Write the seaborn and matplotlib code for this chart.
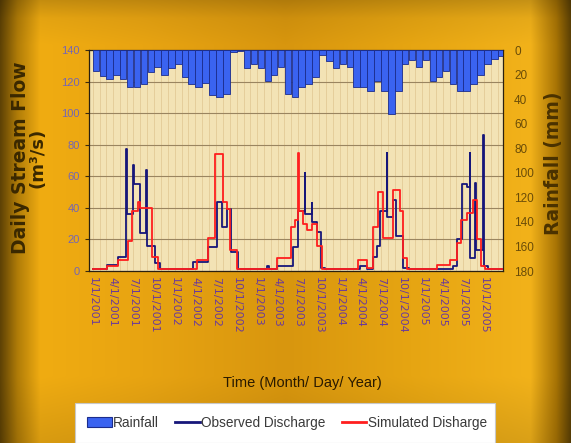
import numpy as np
import pandas as pd
import matplotlib
matplotlib.use("Agg")
import matplotlib.pyplot as plt
import matplotlib.dates as mdates
from matplotlib.colors import to_rgb
from matplotlib.lines import Line2D
from matplotlib.patches import Patch, Rectangle
import seaborn as sns

# ---------------- data ----------------
# Monthly rainfall (mm), Jan 2001 .. Dec 2005
rain_months = pd.date_range("2001-01-01", periods=60, freq="MS")
rain_mm = [17, 21, 24, 20, 24, 30, 30, 28, 18, 14, 20, 15,
           11, 22, 28, 30, 27, 37, 38, 36, 2, 1, 15, 11,
           15, 25, 20, 14, 36, 38, 30, 28, 22, 4, 9, 15,
           11, 14, 30, 30, 33, 25, 33, 52, 33, 11, 8, 14,
           8, 25, 22, 17, 28, 33, 33, 28, 20, 11, 7, 5]

# Observed daily discharge (m3/s) at change points
obs_dates = ["2001-01-01", "2001-03-04", "2001-04-24", "2001-05-29", "2001-06-01",
             "2001-06-30", "2001-07-04", "2001-07-30", "2001-08-25", "2001-08-29",
             "2001-10-04", "2001-10-26",
             "2002-03-23", "2002-05-28", "2002-07-04", "2002-07-26", "2002-08-18",
             "2002-09-04", "2002-10-08",
             "2003-02-12", "2003-02-20", "2003-03-27", "2003-06-09", "2003-07-01",
             "2003-07-30", "2003-08-02", "2003-08-29", "2003-09-02", "2003-09-20",
             "2003-10-08", "2003-10-28",
             "2004-03-30", "2004-04-29", "2004-05-28", "2004-06-12", "2004-06-27",
             "2004-07-26", "2004-07-29", "2004-08-25", "2004-09-06", "2004-10-05",
             "2004-11-01",
             "2005-05-18", "2005-06-02", "2005-06-24", "2005-07-16", "2005-07-30",
             "2005-08-02", "2005-08-24", "2005-08-27", "2005-09-27", "2005-09-30",
             "2005-10-17", "2005-12-20"]
obs_flow = [1, 4, 9, 77, 36,
            67, 55, 24, 64, 16,
            5, 1,
            6, 15, 44, 28, 39,
            12, 1,
            3, 1, 3, 15, 38,
            62, 36, 43, 31, 25,
            2, 1,
            3, 1, 9, 16, 38,
            75, 34, 45, 22, 2,
            1,
            3, 20, 55, 53, 75,
            8, 56, 13, 86, 3,
            1, 1]

# Simulated daily discharge (m3/s) at change points
sim_dates = ["2001-01-01", "2001-03-04", "2001-04-23", "2001-06-08", "2001-06-23",
             "2001-07-20", "2001-08-01", "2001-09-19", "2001-10-19",
             "2002-04-07", "2002-05-28", "2002-06-27", "2002-08-03", "2002-08-18",
             "2002-09-01", "2002-10-01",
             "2003-03-27", "2003-06-01", "2003-06-16", "2003-07-01", "2003-07-05",
             "2003-07-23", "2003-08-07", "2003-08-29", "2003-09-20", "2003-10-12",
             "2004-03-23", "2004-04-29", "2004-05-28", "2004-06-19", "2004-07-11",
             "2004-08-25", "2004-09-23", "2004-10-05", "2004-10-23",
             "2005-03-05", "2005-05-03", "2005-06-02", "2005-06-21", "2005-07-19",
             "2005-08-13", "2005-09-02", "2005-09-17", "2005-10-07", "2005-12-20"]
sim_flow = [1.5, 3, 7, 19, 38,
            44, 40, 9, 1.5,
            7, 21, 74, 44, 39,
            13, 1.5,
            8, 28, 32, 75, 38,
            30, 26, 30, 16, 1.5,
            7, 2, 28, 50, 21,
            51, 38, 8, 1.5,
            4, 7, 18, 32, 37,
            45, 20, 3, 1.5, 1.5]

tick_dates = ["2001-01-01", "2001-04-01", "2001-07-01", "2001-10-01",
              "2002-01-01", "2002-04-01", "2002-07-01", "2002-10-01",
              "2003-01-01", "2003-04-01", "2003-07-01", "2003-10-01",
              "2004-01-01", "2004-04-01", "2004-07-01", "2004-10-01",
              "2005-01-01", "2005-04-01", "2005-07-01", "2005-10-01"]
tick_labels = ["1/1/2001", "4/1/2001", "7/1/2001", "10/1/2001",
               "1/1/2002", "4/1/2002", "7/1/2002", "10/1/2002",
               "1/1/2003", "4/1/2003", "7/1/2003", "10/1/2003",
               "1/1/2004", "4/1/2004", "7/1/2004", "10/1/2004",
               "1/1/2005", "4/1/2005", "7/1/2005", "10/1/2005"]

# ---------------- styling ----------------
OBS_COLOR = "#16167A"
SIM_COLOR = "#FF1E1E"
BAR_FACE = "#3A63F0"
BAR_EDGE = "#1B2C8C"
PLOT_BG = "#F3E3B5"

plt.rcParams["font.family"] = ["Liberation Sans", "DejaVu Sans"]

W, H = 571, 443
fig = plt.figure(figsize=(W / 100, H / 100), dpi=100)

# metallic gold backdrop
def gold_backdrop(h, w):
    xs = np.linspace(0, 1, w)
    stops = [(0.00, "#5E4205"), (0.03, "#B07C08"), (0.07, "#F0AC12"),
             (0.25, "#E8A412"), (0.50, "#D8960E"), (0.72, "#E6A512"),
             (0.93, "#F2B21A"), (0.975, "#A87405"), (1.00, "#5E4205")]
    pos = [p for p, _ in stops]
    cols = np.array([to_rgb(c) for _, c in stops])
    row = np.stack([np.interp(xs, pos, cols[:, i]) for i in range(3)], axis=1)
    ys = np.linspace(0, 1, h)
    shade = np.interp(ys, [0, 0.04, 0.10, 0.85, 1.0], [0.82, 0.95, 1.0, 1.0, 0.9])
    return np.clip(row[None, :, :] * shade[:, None, None], 0, 1)

bg = fig.add_axes([0, 0, 1, 1], zorder=-10)
bg.imshow(gold_backdrop(H, W), aspect="auto", extent=(0, 1, 0, 1))
bg.set_axis_off()

ax = fig.add_axes([89 / W, 1 - 271 / H, (503 - 89) / W, (271 - 50) / H])
ax.set_facecolor(PLOT_BG)

obs = pd.DataFrame({"date": pd.to_datetime(obs_dates), "flow": obs_flow})
sim = pd.DataFrame({"date": pd.to_datetime(sim_dates), "flow": sim_flow})

sns.lineplot(data=obs, x="date", y="flow", ax=ax, color=OBS_COLOR, lw=1.3,
             drawstyle="steps-post", estimator=None, sort=False, legend=False, zorder=3)
sns.lineplot(data=sim, x="date", y="flow", ax=ax, color=SIM_COLOR, lw=1.3,
             drawstyle="steps-post", estimator=None, sort=False, legend=False, zorder=4)

ax.set_xlim(pd.Timestamp("2000-12-16"), pd.Timestamp("2005-12-24"))
ax.set_ylim(0, 140)
ax.set_yticks(range(0, 141, 20))
ax.set_xticks(pd.to_datetime(tick_dates))
ax.set_xticklabels(tick_labels, rotation=-90, ha="center", va="top",
                   fontsize=8, color="#6A3A9C", family=["DejaVu Sans"])
ax.xaxis.set_minor_locator(mdates.MonthLocator())
ax.tick_params(axis="y", labelsize=8, labelcolor="#7466B4", length=3,
               color="#3A2A10", width=0.8)
ax.tick_params(axis="x", which="both", length=0, pad=4)
ax.grid(axis="y", which="major", color="#9A8560", lw=0.8)
ax.grid(axis="x", which="minor", color="#E3CB96", lw=0.6)
ax.grid(axis="x", which="major", color="#E3CB96", lw=0.6)
ax.set_xlabel("")
ax.set_ylabel("")
for s in ax.spines.values():
    s.set_color("#2A2010")
    s.set_linewidth(0.9)

# rainfall hanging from the top on a reversed secondary axis
ax2 = ax.twinx()
ax2.bar(rain_months + pd.Timedelta(days=15), rain_mm, width=29,
        color=BAR_FACE, edgecolor=BAR_EDGE, linewidth=0.6, zorder=2)
ax2.set_ylim(180, 0)
ax2.set_yticks(range(0, 181, 20))
ax2.tick_params(axis="y", labelsize=8.5, labelcolor="#6A4C08", length=0, pad=8)
for s in ax2.spines.values():
    s.set_visible(False)
ax2.set_ylabel("")

# axis titles
fig.text(21 / W, 1 - 158 / H, "Daily Stream Flow", rotation=90, ha="center", va="center",
         fontsize=13.5, fontweight="bold", color="#3A2800", family=["DejaVu Sans"])
fig.text(38 / W, 1 - 158 / H, "(m³/s)", rotation=90, ha="center", va="center",
         fontsize=13, fontweight="bold", color="#3A2800", family=["DejaVu Sans"])
fig.text(554 / W, 1 - 163 / H, "Rainfall (mm)", rotation=90, ha="center", va="center",
         fontsize=13.5, fontweight="bold", color="#4A3200", family=["DejaVu Sans"])
fig.text(302 / W, 1 - 383 / H, "Time (Month/ Day/ Year)", ha="center", va="center",
         fontsize=10.5, color="#2A1A00")

# legend panel
fig.patches.append(Rectangle((75 / W, 0), (495 - 75) / W, (443 - 403) / H,
                             transform=fig.transFigure, facecolor="white",
                             edgecolor="#C8C8C8", lw=0.8, zorder=1))
handles = [Patch(facecolor=BAR_FACE, edgecolor=BAR_EDGE, lw=0.8),
           Line2D([], [], color=OBS_COLOR, lw=2),
           Line2D([], [], color=SIM_COLOR, lw=2)]
labels = ["Rainfall", "Observed Discharge", "Simulated Disharge"]
leg = fig.legend(handles, labels, loc="center", bbox_to_anchor=(287 / W, 1 - 423 / H),
                 ncol=3, frameon=False, handlelength=1.8, handletextpad=0.1,
                 columnspacing=1.2, prop={"family": ["Liberation Sans"], "size": 9.8})
for t in leg.get_texts():
    t.set_color("#3A3A3A")

fig.savefig("out.png", dpi=100)
